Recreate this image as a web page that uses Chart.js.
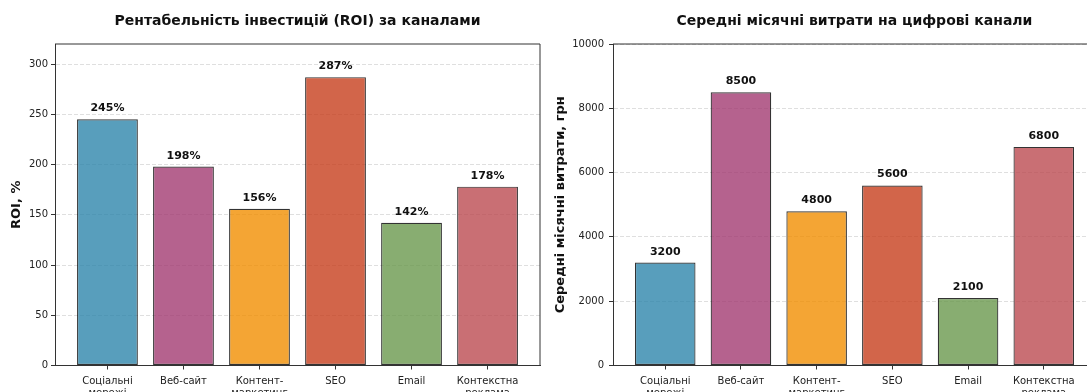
<!DOCTYPE html>
<html>
<head>
<meta charset="utf-8">
<script src="https://cdn.jsdelivr.net/npm/chart.js@4.4.0/dist/chart.umd.min.js"></script>
<style>
    html, body { margin: 0; padding: 0; background: #fff; overflow: hidden; }
    #wrap { position: relative; width: 1087px; height: 392px; overflow: hidden; }
    .box { position: absolute; top: 0; width: 600px; height: 392px; }
</style>
</head>
<body>
<div id="wrap">
    <div class="box" style="left:0"><canvas id="roi_chart" width="600" height="392"></canvas></div>
    <div class="box" style="left:545px"><canvas id="cost_chart" width="600" height="392"></canvas></div>
</div>
<script>
var channels = [["Соціальні", "мережі"], "Веб-сайт", ["Контент-", "маркетинг"], "SEO", "Email", ["Контекстна", "реклама"]];
var roiValues = [245, 198, 156, 287, 142, 178];
var costValues = [3200, 8500, 4800, 5600, 2100, 6800];
var roiTicks = [0, 50, 100, 150, 200, 250, 300];
var costTicks = [0, 2000, 4000, 6000, 8000, 10000];
var barColors = [
    "rgba(46, 134, 171, 0.8)",
    "rgba(162, 59, 114, 0.8)",
    "rgba(241, 143, 1, 0.8)",
    "rgba(199, 62, 29, 0.8)",
    "rgba(106, 153, 78, 0.8)",
    "rgba(188, 75, 81, 0.8)",
];

Chart.defaults.font.family = "'DejaVu Sans', sans-serif";

// value labels over bars, the top/right frame and the title centred on the plot
var framePlugin = {
    id: "frame",
    afterDatasetsDraw: function (chart, args, opts) {
        var ctx = chart.ctx, a = chart.chartArea;
        var meta = chart.getDatasetMeta(0);
        ctx.save();
        ctx.font = "bold 11px 'DejaVu Sans'";
        ctx.fillStyle = "#111";
        ctx.textAlign = "center";
        ctx.textBaseline = "alphabetic";
        meta.data.forEach(function (bar, i) {
            ctx.fillText(chart.data.datasets[0].data[i].y + opts.suffix, bar.x, bar.y - 8);
        });
        ctx.strokeStyle = "#333";
        ctx.lineWidth = 1;
        ctx.beginPath();
        ctx.moveTo(a.left, a.top);
        ctx.lineTo(a.right, a.top);
        ctx.lineTo(a.right, a.bottom);
        ctx.stroke();
        ctx.font = "bold 14px 'DejaVu Sans'";
        ctx.textBaseline = "middle";
        ctx.fillText(opts.title, (a.left + a.right) / 2, 21);
        ctx.restore();
    },
};

function initBarChart(id, values, ticks, yMax, yTitle, title, suffix, yWidth, titlePad, tickPad, padRight) {
    "use strict";
    return new Chart(document.getElementById(id).getContext("2d"), {
        type: "bar",
        data: {
            datasets: [
                {
                    data: values.map(function (v, i) { return { x: i, y: v }; }),
                    backgroundColor: barColors,
                    borderColor: "rgba(0, 0, 0, 0.8)",
                    borderWidth: 1.2,
                    borderSkipped: false,
                    categoryPercentage: 1,
                    barPercentage: 0.8,
                },
            ],
        },
        options: {
            responsive: false,
            animation: false,
            layout: { padding: { top: 44, right: padRight, left: 0, bottom: 0 } },
            plugins: {
                legend: { display: false },
                tooltip: { enabled: false },
                frame: { title: title, suffix: suffix },
            },
            scales: {
                x: {
                    type: "linear",
                    offset: false,
                    min: -0.69,
                    max: 5.69,
                    afterBuildTicks: function (s) {
                        s.ticks = channels.map(function (c, i) { return { value: i }; });
                    },
                    afterFit: function (s) { s.height = 26.5; },
                    ticks: {
                        callback: function (v) { return channels[v]; },
                        color: "#222",
                        font: { size: 10 },
                        padding: 6,
                        maxRotation: 0,
                        autoSkip: false,
                    },
                    grid: { offset: false, drawOnChartArea: false, tickLength: 4, tickColor: "#333" },
                    border: { color: "#333", width: 1 },
                },
                y: {
                    min: 0,
                    max: yMax,
                    afterBuildTicks: function (s) {
                        s.ticks = ticks.map(function (v) { return { value: v }; });
                    },
                    afterFit: function (s) { s.width = yWidth; },
                    ticks: {
                        callback: function (v) { return String(v); },
                        color: "#222",
                        font: { size: 10 },
                        padding: tickPad,
                    },
                    grid: { color: "rgba(128, 128, 128, 0.25)", tickColor: "#333", tickLength: 4 },
                    border: { color: "#333", width: 1, dash: [4, 2] },
                    title: {
                        display: true,
                        text: yTitle,
                        color: "#111",
                        font: { size: 13, weight: "bold" },
                        padding: { top: titlePad },
                    },
                },
            },
        },
        plugins: [framePlugin],
    });
}

initBarChart("roi_chart", roiValues, roiTicks, 320, "ROI, %",
    "Рентабельність інвестицій (ROI) за каналами", "%", 55, 9, 3, 60);
initBarChart("cost_chart", costValues, costTicks, 10000, "Середні місячні витрати, грн",
    "Середні місячні витрати на цифрові канали", "", 68, 8, 5, 49);
</script>
</body>
</html>
